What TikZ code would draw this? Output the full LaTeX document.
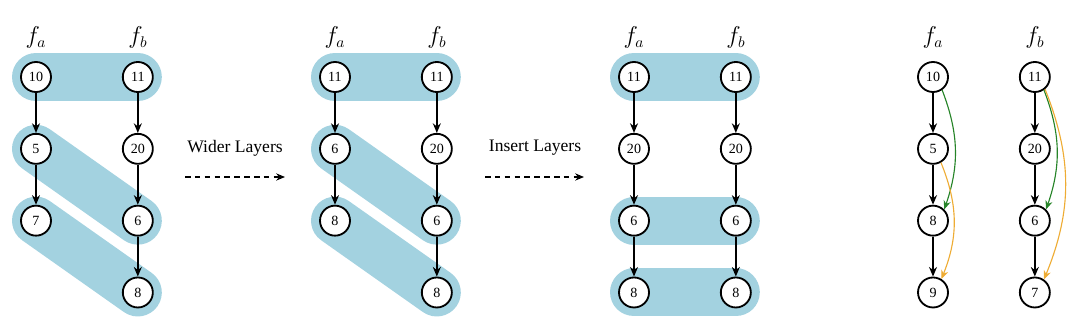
\documentclass[tikz,border=0pt]{standalone}
\usepackage{fontspec}
\setmainfont{Liberation Serif}
\usepackage{xcolor}
\usetikzlibrary{arrows.meta,positioning,backgrounds}

\definecolor{bandblue}{RGB}{163,210,224}
\definecolor{skipgreen}{RGB}{38,132,40}
\definecolor{skiporange}{RGB}{238,172,52}

\begin{document}
\begin{tikzpicture}[
  val/.style={draw,circle,line width=1.3pt,minimum size=7.5mm,inner sep=0pt,
              font=\fontsize{10}{11}\selectfont,fill=white},
  fn/.style={font=\fontsize{16}{18}\selectfont},
  band/.style={draw=bandblue,line width=12mm,line cap=round},
  arrow/.style={-{Stealth[length=2.4mm,width=2mm]},line width=1pt},
  step arrow/.style={-{Stealth[length=2.2mm,width=1.8mm]},line width=1pt,
                     dash pattern=on 4pt off 3pt},
  skip/.style={-{Stealth[length=2.2mm,width=1.8mm]},line width=0.8pt},
  caption/.style={font=\fontsize{12.5}{14}\selectfont},
  node distance=10mm and 17.5mm
]
\useasboundingbox (0,0) rectangle (27,-8.325);

% original
\node[val] at (0.9,-1.925) (oa1) {10};
\node[val, below=of oa1] (oa2) {5};
\node[val, below=of oa2] (oa3) {7};
\node[val, right=of oa1] (ob1) {11};
\node[val, below=of ob1] (ob2) {20};
\node[val, below=of ob2] (ob3) {6};
\node[val, below=of ob3] (ob4) {8};
\node[fn, above=2mm of oa1] (ofa) {$f_a$};
\node[fn, above=2mm of ob1] (ofb) {$f_b$};
\draw[arrow] (oa1) -- (oa2);
\draw[arrow] (oa2) -- (oa3);
\draw[arrow] (ob1) -- (ob2);
\draw[arrow] (ob2) -- (ob3);
\draw[arrow] (ob3) -- (ob4);
\begin{scope}[on background layer]
\draw[band] (oa1.center) -- (ob1.center);
\draw[band] (oa2.center) -- (ob3.center);
\draw[band] (oa3.center) -- (ob4.center);
\end{scope}

\node[caption] at (5.875,-3.7) (wtxt) {Wider Layers};
\coordinate (w0) at (4.625,-4.425);
\coordinate (w1) at (7.125,-4.425);
\draw[step arrow] (w0) -- (w1);

% wider layers
\node[val] at (8.375,-1.925) (wa1) {11};
\node[val, below=of wa1] (wa2) {6};
\node[val, below=of wa2] (wa3) {8};
\node[val, right=of wa1] (wb1) {11};
\node[val, below=of wb1] (wb2) {20};
\node[val, below=of wb2] (wb3) {6};
\node[val, below=of wb3] (wb4) {8};
\node[fn, above=2mm of wa1] (wfa) {$f_a$};
\node[fn, above=2mm of wb1] (wfb) {$f_b$};
\draw[arrow] (wa1) -- (wa2);
\draw[arrow] (wa2) -- (wa3);
\draw[arrow] (wb1) -- (wb2);
\draw[arrow] (wb2) -- (wb3);
\draw[arrow] (wb3) -- (wb4);
\begin{scope}[on background layer]
\draw[band] (wa1.center) -- (wb1.center);
\draw[band] (wa2.center) -- (wb3.center);
\draw[band] (wa3.center) -- (wb4.center);
\end{scope}

\node[caption] at (13.375,-3.7) (itxt) {Insert Layers};
\coordinate (i0) at (12.125,-4.425);
\coordinate (i1) at (14.6,-4.425);
\draw[step arrow] (i0) -- (i1);

% insert layers
\node[val] at (15.85,-1.925) (ia1) {11};
\node[val, below=of ia1] (ia2) {20};
\node[val, below=of ia2] (ia3) {6};
\node[val, below=of ia3] (ia4) {8};
\node[val, right=of ia1] (ib1) {11};
\node[val, below=of ib1] (ib2) {20};
\node[val, below=of ib2] (ib3) {6};
\node[val, below=of ib3] (ib4) {8};
\node[fn, above=2mm of ia1] (ifa) {$f_a$};
\node[fn, above=2mm of ib1] (ifb) {$f_b$};
\draw[arrow] (ia1) -- (ia2);
\draw[arrow] (ia2) -- (ia3);
\draw[arrow] (ia3) -- (ia4);
\draw[arrow] (ib1) -- (ib2);
\draw[arrow] (ib2) -- (ib3);
\draw[arrow] (ib3) -- (ib4);
\begin{scope}[on background layer]
\draw[band] (ia1.center) -- (ib1.center);
\draw[band] (ia3.center) -- (ib3.center);
\draw[band] (ia4.center) -- (ib4.center);
\end{scope}

% residual links
\node[val] at (23.325,-1.925) (ra1) {10};
\node[val, below=of ra1] (ra2) {5};
\node[val, below=of ra2] (ra3) {8};
\node[val, below=of ra3] (ra4) {9};
\node[val, right=of ra1] (rb1) {11};
\node[val, below=of rb1] (rb2) {20};
\node[val, below=of rb2] (rb3) {6};
\node[val, below=of rb3] (rb4) {7};
\node[fn, above=2mm of ra1] (rfa) {$f_a$};
\node[fn, above=2mm of rb1] (rfb) {$f_b$};
\draw[arrow] (ra1) -- (ra2);
\draw[arrow] (ra2) -- (ra3);
\draw[arrow] (ra3) -- (ra4);
\draw[arrow] (rb1) -- (rb2);
\draw[arrow] (rb2) -- (rb3);
\draw[arrow] (rb3) -- (rb4);
\draw[skip,skipgreen] (ra1.-55) to[bend left=20] (ra3.45);
\draw[skip,skiporange] (ra2.-60) to[bend left=22] (ra4.58);
\draw[skip,skipgreen] (rb1.-55) to[bend left=20] (rb3.45);
\draw[skip,skiporange] (rb1.-50) to[bend left=22] (rb4.55);
\end{tikzpicture}
\end{document}
